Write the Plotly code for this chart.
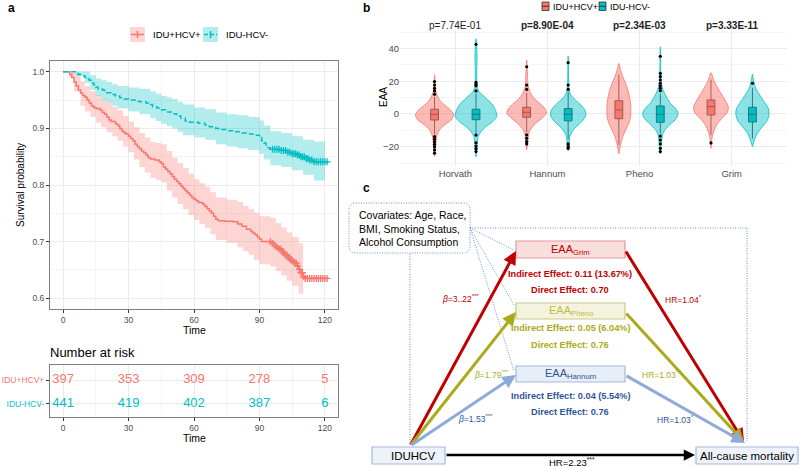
import numpy as np
import plotly.graph_objects as go

FONT = "Arial"
RED = "#F8766D"
CYAN = "#00BFC4"

# ---------------- Panel a : Kaplan-Meier data ----------------
pos_t = [0, 2.5, 3, 4, 5, 6, 7, 8, 9, 10, 11, 12, 13, 14, 15, 17, 18, 19, 20, 21, 22, 24, 25, 26, 27, 28, 29, 30,
         31, 32, 33, 34, 35, 36, 37, 38, 39, 40, 42, 44, 45, 46, 47, 48, 49, 50, 51, 52, 53, 54, 55, 56, 57, 58, 59,
         60, 61, 62, 64, 65, 66, 67, 68, 69, 70, 71, 74, 78, 80, 82, 84, 86, 87, 88, 89, 90, 91, 95, 96, 97, 98, 99,
         100, 101, 102, 103, 104, 105, 106, 107, 108, 109, 110, 110.5, 121]
pos_s = [1.0, 1.0, 0.995, 0.99, 0.982, 0.975, 0.968, 0.962, 0.958, 0.955, 0.950, 0.945, 0.940, 0.937, 0.935, 0.932,
         0.928, 0.925, 0.920, 0.915, 0.912, 0.908, 0.905, 0.900, 0.895, 0.892, 0.890, 0.886, 0.882, 0.878, 0.872,
         0.868, 0.864, 0.860, 0.857, 0.853, 0.848, 0.846, 0.844, 0.841, 0.838, 0.832, 0.828, 0.824, 0.820, 0.815,
         0.810, 0.806, 0.802, 0.798, 0.794, 0.790, 0.786, 0.782, 0.778, 0.775, 0.772, 0.769, 0.766, 0.762, 0.758,
         0.754, 0.750, 0.745, 0.740, 0.737, 0.736, 0.735, 0.731, 0.727, 0.722, 0.718, 0.715, 0.712, 0.708, 0.704,
         0.700, 0.700, 0.697, 0.693, 0.690, 0.687, 0.683, 0.679, 0.676, 0.672, 0.668, 0.665, 0.662, 0.657, 0.651,
         0.645, 0.638, 0.635, 0.635]
pos_ci_t = [0, 3, 5, 8, 10, 12.5, 15, 17.5, 20, 22.5, 25, 27.5, 30, 32.5, 35, 37.5, 40, 42.5, 45, 47.5, 50, 52.5,
            55, 57.5, 60, 62.5, 65, 67.5, 70, 75, 80, 82.5, 85, 87.5, 90, 95, 97.5, 100, 102.5, 105, 108, 110]
pos_ci_lo = [1.0, 0.99, 0.965, 0.94, 0.93, 0.92, 0.91, 0.902, 0.893, 0.886, 0.878, 0.868, 0.858, 0.845, 0.832,
             0.822, 0.813, 0.809, 0.805, 0.79, 0.778, 0.767, 0.757, 0.747, 0.738, 0.731, 0.724, 0.713, 0.703, 0.698,
             0.69, 0.683, 0.677, 0.668, 0.66, 0.656, 0.648, 0.64, 0.631, 0.622, 0.608, 0.601]
pos_ci_hi = [1.0, 1.0, 0.998, 0.983, 0.975, 0.966, 0.958, 0.951, 0.945, 0.938, 0.932, 0.922, 0.912, 0.902, 0.892,
             0.884, 0.876, 0.874, 0.872, 0.86, 0.848, 0.839, 0.83, 0.82, 0.81, 0.803, 0.797, 0.787, 0.778, 0.774,
             0.77, 0.763, 0.757, 0.751, 0.745, 0.742, 0.733, 0.725, 0.716, 0.708, 0.697, 0.69]
pos_censor = [95, 96, 97, 98, 99, 99.8, 100.5, 101.2, 102, 102.7, 103.4, 104.1, 104.8, 105.5, 106.2, 106.9, 107.6,
              108.3, 109, 109.7, 110.3, 111, 112, 113, 114, 115, 116, 117, 118, 119, 120, 121]

neg_t = [0, 5.5, 6, 7, 8, 10, 11, 12, 13, 14, 15, 16, 18, 19, 20, 22, 24, 26, 28, 30, 33, 35, 38, 40, 41, 43, 45,
         47, 50, 52, 54, 56, 58, 62, 65, 67, 70, 72, 75, 78, 82, 85, 88, 90, 91, 92, 93, 94, 95, 100, 103, 105, 107,
         109, 111, 113, 114.5, 121]
neg_s = [1.0, 1.0, 0.997, 0.995, 0.993, 0.990, 0.987, 0.985, 0.980, 0.977, 0.973, 0.970, 0.968, 0.965, 0.963, 0.960,
         0.957, 0.954, 0.952, 0.950, 0.948, 0.947, 0.945, 0.942, 0.938, 0.936, 0.933, 0.929, 0.926, 0.922, 0.918,
         0.913, 0.911, 0.909, 0.906, 0.903, 0.900, 0.898, 0.896, 0.894, 0.892, 0.890, 0.888, 0.884, 0.878, 0.874,
         0.870, 0.866, 0.863, 0.861, 0.858, 0.855, 0.853, 0.850, 0.847, 0.844, 0.841, 0.841]
neg_ci_t = [0, 6, 10, 12.5, 15, 17.5, 20, 22.5, 25, 30, 35, 40, 42.5, 45, 47.5, 50, 52.5, 55, 60, 65, 70, 75, 80, 85,
            90, 92, 95, 100, 105, 110, 115, 120]
neg_ci_lo = [1.0, 0.993, 0.98, 0.968, 0.957, 0.95, 0.945, 0.94, 0.935, 0.93, 0.925, 0.918, 0.913, 0.908, 0.904, 0.9,
             0.894, 0.888, 0.884, 0.88, 0.872, 0.868, 0.865, 0.862, 0.855, 0.845, 0.835, 0.832, 0.826, 0.818, 0.808,
             0.806]
neg_ci_hi = [1.0, 1.0, 1.0, 0.994, 0.988, 0.985, 0.982, 0.978, 0.975, 0.972, 0.97, 0.965, 0.961, 0.957, 0.955,
             0.952, 0.947, 0.942, 0.937, 0.934, 0.928, 0.925, 0.923, 0.92, 0.914, 0.905, 0.895, 0.892, 0.886, 0.88,
             0.877, 0.877]
neg_censor = [96, 97, 98, 99, 100, 101, 102, 103, 104, 105, 105.8, 106.6, 107.4, 108.2, 109, 109.8, 110.6, 111.4,
              112.2, 113, 114, 115, 116, 117, 118, 119, 120, 121]

groups = ["IDU+HCV+", "IDU-HCV-"]
risk_times = [0, 30, 60, 90, 120]
risk_pos = [397, 353, 309, 278, 5]
risk_neg = [441, 419, 402, 387, 6]

# ---------------- Panel b : violin data ----------------
clocks = ["Horvath", "Hannum", "Pheno", "Grim"]
p_values = ["p=7.74E-01", "p=8.90E-04", "p=2.34E-03", "p=3.33E-11"]
p_bold = [False, True, True, True]

vio_pos_v = [
    [24, 14, 8.6, 5.5, 2.4, -0.6, -3.7, -6.7, -9.8, -13.9, -20, -26],
    [33, 16.7, 12.6, 8.6, 5.5, 2.4, 0.4, -2.7, -5.7, -8.8, -11.8, -17.9, -22],
    [30.9, 26.9, 22.8, 18.8, 14.7, 10.6, 6.5, 2.4, -1.6, -5.7, -9.8, -13.9, -17.9, -24.5],
    [25.3, 20.8, 16.7, 12.6, 8.6, 4.5, 1.4, -1.6, -5.7, -9.8, -13.9, -21],
]
vio_pos_w = [
    [0, 0.013, 0.054, 0.109, 0.174, 0.207, 0.181, 0.109, 0.054, 0.022, 0.011, 0],
    [0, 0.018, 0.043, 0.098, 0.163, 0.207, 0.214, 0.163, 0.098, 0.051, 0.022, 0.011, 0],
    [0, 0.018, 0.043, 0.073, 0.098, 0.116, 0.127, 0.13, 0.127, 0.109, 0.073, 0.043, 0.022, 0],
    [0, 0.029, 0.065, 0.109, 0.152, 0.188, 0.181, 0.138, 0.073, 0.036, 0.014, 0],
]
vio_neg_v = [
    [46, 37, 17, 13.7, 9.6, 5.5, 1.4, -1.6, -4.7, -7.7, -10.8, -13.9, -20, -26.4],
    [35.5, 14.7, 11.6, 8.6, 5.5, 2.4, -0.6, -3.7, -6.7, -9.8, -13.9, -20, -22.4],
    [41.1, 18.8, 14.7, 10.6, 6.5, 3.5, 0.4, -2.7, -5.7, -8.8, -11.8, -17.9, -24.5],
    [24.3, 20.8, 15.7, 11.6, 7.5, 3.5, 0.1, -3.7, -7.7, -11.8, -15.9, -20],
]
vio_neg_w = [
    [0, 0.011, 0.011, 0.033, 0.109, 0.181, 0.217, 0.225, 0.181, 0.109, 0.054, 0.022, 0.011, 0],
    [0, 0.011, 0.029, 0.079, 0.138, 0.181, 0.192, 0.163, 0.109, 0.054, 0.018, 0.011, 0],
    [0, 0.011, 0.029, 0.065, 0.109, 0.163, 0.192, 0.174, 0.12, 0.065, 0.029, 0.011, 0],
    [0, 0.011, 0.036, 0.079, 0.127, 0.171, 0.181, 0.163, 0.109, 0.054, 0.022, 0],
]
# box stats: q1, median, q3, lower whisker, upper whisker
box_pos = [[-3.7, -0.2, 2.9, -12.5, 10.5], [-2.0, 1.0, 4.1, -11.0, 13.0],
           [-2.9, 2.4, 8.1, -19.0, 24.0], [-0.6, 4.5, 8.6, -13.0, 21.0]]
box_neg = [[-3.5, -0.2, 2.9, -12.0, 12.5], [-4.2, -0.2, 3.3, -15.5, 13.5],
           [-5.1, -0.2, 4.9, -12.0, 12.5], [-4.9, -0.2, 4.1, -15.0, 16.0]]
out_pos = [[19.8, 17.7, 15.7, 14.1, 12.0, -13.9, -15.5, -17.0, -18.5, -20.0, -22.0, -24.0],
           [28.9, 17.7, 15.0, -12.8, -14.9, -16.9, -18.3],
           [],
           [-17.7]]
out_neg = [[42.6, 19.4, 18.2, 17.2, 14.1, -12.9, -17.6, -19.6, -21.2, -23.0],
           [31.4, 17.7, 15.0, -18.3, -20.0, -21.0],
           [35.3, 24.9, 22.8, 20.8, 18.8, 17.2, 15.7, 14.2, -13.5, -15.9, -18.3, -21.0, -23.0],
           [18.8]]
dodge = 0.225

fig = go.Figure()

def step_at(ts, ss, q):
    ts = np.asarray(ts); ss = np.asarray(ss)
    idx = np.searchsorted(ts, q, side="right") - 1
    return ss[idx]

for ci_t, lo, hi, col_f in [(pos_ci_t, pos_ci_lo, pos_ci_hi, "rgba(248,118,109,0.30)"),
                            (neg_ci_t, neg_ci_lo, neg_ci_hi, "rgba(0,191,196,0.30)")]:
    fig.add_trace(go.Scatter(x=ci_t, y=lo, mode="lines", line=dict(width=0, shape="hv"),
                             showlegend=False, hoverinfo="skip", xaxis="x", yaxis="y"))
    fig.add_trace(go.Scatter(x=ci_t, y=hi, mode="lines", line=dict(width=0, shape="hv"), fill="tonexty",
                             fillcolor=col_f, showlegend=False, hoverinfo="skip", xaxis="x", yaxis="y"))

fig.add_trace(go.Scatter(x=pos_t, y=pos_s, mode="lines", line=dict(color=RED, width=1.5, shape="hv"),
                         showlegend=False, xaxis="x", yaxis="y"))
fig.add_trace(go.Scatter(x=neg_t, y=neg_s, mode="lines",
                         line=dict(color=CYAN, width=1.5, shape="hv", dash="5px,3px"),
                         showlegend=False, xaxis="x", yaxis="y"))
for ct, tt, ss, col in [(pos_censor, pos_t, pos_s, RED), (neg_censor, neg_t, neg_s, CYAN)]:
    fig.add_trace(go.Scatter(x=ct, y=step_at(tt, ss, ct), mode="markers",
                             marker=dict(symbol="cross-thin", size=5, line=dict(color=col, width=1.3)),
                             showlegend=False, xaxis="x", yaxis="y"))

# ---- risk table
fig.add_trace(go.Scatter(x=risk_times, y=[2] * len(risk_times), mode="text",
                         text=[str(v) for v in risk_pos], textfont=dict(color=RED, size=13, family=FONT),
                         showlegend=False, xaxis="x2", yaxis="y2"))
fig.add_trace(go.Scatter(x=risk_times, y=[1] * len(risk_times), mode="text",
                         text=[str(v) for v in risk_neg], textfont=dict(color=CYAN, size=13, family=FONT),
                         showlegend=False, xaxis="x2", yaxis="y2"))

# ---- violins
for i in range(4):
    for vv, ww, col, fcol, off in [(vio_pos_v[i], vio_pos_w[i], RED, "rgba(248,118,109,0.5)", -dodge),
                                   (vio_neg_v[i], vio_neg_w[i], CYAN, "rgba(0,191,196,0.45)", dodge)]:
        c = i + off
        xs = [c + w for w in ww] + [c - w for w in ww[::-1]]
        ys = list(vv) + list(vv[::-1])
        fig.add_trace(go.Scatter(x=xs, y=ys, mode="lines", fill="toself", fillcolor=fcol,
                                 line=dict(color=col, width=0.8, shape="spline", smoothing=0.8),
                                 showlegend=False, hoverinfo="skip", xaxis="x3", yaxis="y3"))
for i in range(4):
    for st, col, off, outs in [(box_pos[i], RED, -dodge, out_pos[i]), (box_neg[i], CYAN, dodge, out_neg[i])]:
        fig.add_trace(go.Box(x=[i + off], q1=[st[0]], median=[st[1]], q3=[st[2]], lowerfence=[st[3]],
                             upperfence=[st[4]], width=0.085, fillcolor=col,
                             line=dict(color="#333333", width=0.9), whiskerwidth=0,
                             showlegend=False, xaxis="x3", yaxis="y3"))
        if outs:
            fig.add_trace(go.Scatter(x=[i + off] * len(outs), y=outs, mode="markers",
                                     marker=dict(color="black", size=3.2), showlegend=False,
                                     xaxis="x3", yaxis="y3"))

H = 467.0
def dom(top, bottom):
    return [1 - bottom / H, 1 - top / H]

grid = "#ebebeb"
tickfont = dict(size=8.5, color="#4d4d4d", family=FONT)
ax_a = dict(range=[-6, 126], tick0=0, dtick=30, showgrid=True, gridcolor=grid, gridwidth=1,
            minor=dict(dtick=15, tick0=0, showgrid=True, gridcolor="#f4f4f4", ticks=""),
            showline=True, mirror=True, linecolor="#7f7f7f", linewidth=1, ticks="outside", ticklen=3,
            tickcolor="#333333", tickfont=tickfont, zeroline=False)

annotations = []
shapes = []

def A(x, y, text, size=10, color="black", xanchor="center", yanchor="middle", **kw):
    annotations.append(dict(x=x, y=y, xref="x4", yref="y4", text=text, showarrow=False,
                            font=dict(size=size, color=color, family=FONT), xanchor=xanchor,
                            yanchor=yanchor, borderpad=0, **kw))

# panel labels
A(11, 8, "<b>a</b>", size=12)
A(366, 8, "<b>b</b>", size=12)
A(366, 188, "<b>c</b>", size=12)

# panel a axis titles
A(194, 330, "Time", size=10.5)
A(20, 185, "Survival probability", size=10, textangle=-90)
A(194, 438, "Time", size=10.5)
A(49, 352, "Number at risk", size=13, xanchor="left")

# panel a legend
shapes += [
    dict(type="rect", xref="x4", yref="y4", x0=130, x1=145, y0=27, y1=42, fillcolor="rgba(248,118,109,0.30)",
         line=dict(width=0)),
    dict(type="line", xref="x4", yref="y4", x0=131, x1=144, y0=34.5, y1=34.5, line=dict(color=RED, width=1.5)),
    dict(type="line", xref="x4", yref="y4", x0=137.5, x1=137.5, y0=31, y1=38, line=dict(color=RED, width=1.5)),
    dict(type="rect", xref="x4", yref="y4", x0=203, x1=218, y0=27, y1=42, fillcolor="rgba(0,191,196,0.30)",
         line=dict(width=0)),
    dict(type="line", xref="x4", yref="y4", x0=204, x1=217, y0=34.5, y1=34.5,
         line=dict(color=CYAN, width=1.5, dash="4px,2px")),
    dict(type="line", xref="x4", yref="y4", x0=210.5, x1=210.5, y0=31, y1=38, line=dict(color=CYAN, width=1.5)),
]
A(152, 34.5, groups[0], size=9.5, xanchor="left")
A(225, 34.5, groups[1], size=9.5, xanchor="left")

# panel b legend
for x0, col, lab in [(542, RED, groups[0]), (599, CYAN, groups[1])]:
    shapes.append(dict(type="rect", xref="x4", yref="y4", x0=x0, x1=x0 + 7, y0=2, y1=10.5,
                       fillcolor=col, line=dict(color="#333333", width=0.8)))
    shapes.append(dict(type="line", xref="x4", yref="y4", x0=x0, x1=x0 + 7, y0=6.3, y1=6.3,
                       line=dict(color="#333333", width=1)))
    A(x0 + 10, 6.5, lab, size=9, xanchor="left")
A(383, 97, "EAA", size=10, textangle=-90)

for i in range(4):
    annotations.append(dict(x=i, y=54, xref="x3", yref="y3", showarrow=False,
                            text=("<b>%s</b>" % p_values[i]) if p_bold[i] else p_values[i],
                            font=dict(size=10, color="#222222", family=FONT)))

# ---------------- Panel c : diagram ----------------
C_RED = "#c00000"
C_OLV = "#aaaa1a"
C_BLU = "#2f5597"
C_BLU_ARR = "#8eaadb"
dot_blue = dict(color="#4472c4", width=0.8, dash="1px,1.5px")

shapes += [
    dict(type="line", xref="x4", yref="y4", x0=470, y0=228, x1=747, y1=228, line=dot_blue),
    dict(type="line", xref="x4", yref="y4", x0=747, y0=228, x1=747, y1=441, line=dot_blue),
    dict(type="line", xref="x4", yref="y4", x0=410, y0=254, x1=410, y1=446, line=dot_blue),
    dict(type="line", xref="x4", yref="y4", x0=470, y0=228, x1=514, y1=250, line=dot_blue),
    dict(type="line", xref="x4", yref="y4", x0=470, y0=228, x1=514, y1=305, line=dot_blue),
    dict(type="line", xref="x4", yref="y4", x0=470, y0=228, x1=514, y1=371, line=dot_blue),
]
x0, x1, y0, y1, r = 349, 470, 203, 253, 7
path = ("M %f,%f L %f,%f Q %f,%f %f,%f L %f,%f Q %f,%f %f,%f L %f,%f Q %f,%f %f,%f L %f,%f Q %f,%f %f,%f Z" %
        (x0 + r, y0, x1 - r, y0, x1, y0, x1, y0 + r, x1, y1 - r, x1, y1, x1 - r, y1, x0 + r, y1, x0, y1, x0,
         y1 - r, x0, y0 + r, x0, y0, x0 + r, y0))
shapes.append(dict(type="path", xref="x4", yref="y4", path=path, fillcolor="white",
                   line=dict(color="#4472c4", width=0.8, dash="1px,1.5px")))
A(358, 215, "Covariates: Age, Race,", size=10.5, xanchor="left")
A(358, 229, "BMI, Smoking Status,", size=10.5, xanchor="left")
A(358, 242, "Alcohol Consumption", size=10.5, xanchor="left")

def arrow(tx, ty, hx, hy, col, w=3, size=0.9):
    annotations.append(dict(x=hx, y=hy, ax=tx, ay=ty, xref="x4", yref="y4", axref="x4", ayref="y4",
                            text="", showarrow=True, arrowhead=2, arrowsize=size, arrowwidth=w,
                            arrowcolor=col))

arrow(410, 446, 516, 251, C_RED)
arrow(410, 446, 516, 312, C_OLV)
arrow(410, 446, 516, 375, C_BLU_ARR)
arrow(625, 250, 744, 442, C_RED)
arrow(625, 312, 744, 442, C_OLV)
arrow(625, 375, 745, 443, C_BLU_ARR)
arrow(445, 455, 695, 455, "black", w=2.5)

boxes = [
    (241, 258, "#f9dede", "#e39a9a", "EAA<sub>Grim</sub>", C_RED),
    (303, 319, "#f3f3de", "#c9c98f", "EAA<sub>Pheno</sub>", "#bdbd40"),
    (366, 382, "#e8eef8", "#a7b9dc", "EAA<sub>Hannum</sub>", C_BLU),
]
for yt, yb, fc, lc, txt, tc in boxes:
    shapes.append(dict(type="rect", xref="x4", yref="y4", x0=516, x1=625, y0=yt, y1=yb, fillcolor=fc,
                       line=dict(color=lc, width=1.2)))
    A(570.5, (yt + yb) / 2, txt, size=11, color=tc)

A(570, 274, "<b>Indirect Effect: 0.11 (13.67%)</b>", size=9.2, color=C_RED)
A(570, 290, "<b>Direct Effect: 0.70</b>", size=9.2, color=C_RED)
A(570, 328, "<b>Indirect Effect: 0.05 (6.04%)</b>", size=9.2, color=C_OLV)
A(570, 345, "<b>Direct Effect: 0.76</b>", size=9.2, color=C_OLV)
A(570, 396, "<b>Indirect Effect: 0.04 (5.54%)</b>", size=9.2, color=C_BLU)
A(570, 412, "<b>Direct Effect: 0.76</b>", size=9.2, color=C_BLU)

A(460, 298, "<i>β</i>=3..22<sup>***</sup>", size=8.5, color=C_RED)
A(491, 374, "<i>β</i>=1.79<sup>***</sup>", size=8.5, color=C_OLV)
A(475, 418, "<i>β</i>=1.53<sup>***</sup>", size=8.5, color=C_BLU)
A(683, 299, "HR=1.04<sup>*</sup>", size=8.5, color=C_RED)
A(661, 374, "HR=1.03<sup>**</sup>", size=8.5, color=C_OLV)
A(675, 419, "HR=1.03<sup>*</sup>", size=8.5, color=C_BLU)

for bx0, bx1, txt, cx in [(372, 445, "IDUHCV", 413), (696, 798, "All-cause mortality", 747)]:
    shapes.append(dict(type="rect", xref="x4", yref="y4", x0=bx0, x1=bx1, y0=447, y1=464,
                       fillcolor="#eef2f9", line=dict(color="#a7b9dc", width=1.2)))
    A(cx, 455.5, txt, size=11.5)
A(572, 462, "HR=2.23<sup>***</sup>", size=9.5)

fig.update_layout(
    width=800, height=467, margin=dict(l=0, r=0, t=0, b=0),
    paper_bgcolor="white", plot_bgcolor="rgba(0,0,0,0)",
    font=dict(family=FONT),
    showlegend=False,
    xaxis=dict(domain=[50 / 800, 338 / 800], anchor="y", **ax_a),
    yaxis=dict(domain=dom(61, 309), anchor="x", range=[0.581, 1.019], tick0=0.6, dtick=0.1,
               tickformat=".1f", showgrid=True, gridcolor=grid,
               minor=dict(dtick=0.05, tick0=0.6, showgrid=True, gridcolor="#f4f4f4", ticks=""),
               showline=True, mirror=True, linecolor="#7f7f7f", ticks="outside", ticklen=3,
               tickcolor="#333333", tickfont=tickfont, zeroline=False),
    xaxis2=dict(domain=[50 / 800, 338 / 800], anchor="y2", **ax_a),
    yaxis2=dict(domain=dom(365, 417), anchor="x2", range=[0.458, 2.625], tickvals=[2, 1],
                ticktext=["<span style='color:%s'>%s</span>" % (RED, groups[0]),
                          "<span style='color:%s'>%s</span>" % (CYAN, groups[1])],
                showgrid=True, gridcolor=grid, showline=True, mirror=True, linecolor="#7f7f7f",
                ticks="outside", ticklen=3, tickcolor="#333333", tickfont=dict(size=8.5, family=FONT),
                zeroline=False),
    xaxis3=dict(domain=[400 / 800, 787 / 800], anchor="y3", range=[-0.6, 3.6], tickvals=[0, 1, 2, 3],
                ticktext=clocks, showgrid=True, gridcolor=grid, zeroline=False, ticks="",
                tickfont=dict(size=9.5, color="#4d4d4d", family=FONT)),
    yaxis3=dict(domain=dom(20.8, 166.3), anchor="x3", range=[-32, 57], tick0=0, dtick=20, showgrid=True,
                gridcolor=grid, minor=dict(dtick=10, tick0=0, showgrid=True, gridcolor="#f5f5f5", ticks=""),
                zeroline=False, ticks="", tickfont=dict(size=9.5, color="#4d4d4d", family=FONT)),
    xaxis4=dict(domain=[0, 1], range=[0, 800], visible=False, anchor="y4", fixedrange=True),
    yaxis4=dict(domain=[0, 1], range=[467, 0], visible=False, anchor="x4", fixedrange=True),
    annotations=annotations,
    shapes=shapes,
)

fig.write_html("out.html")
